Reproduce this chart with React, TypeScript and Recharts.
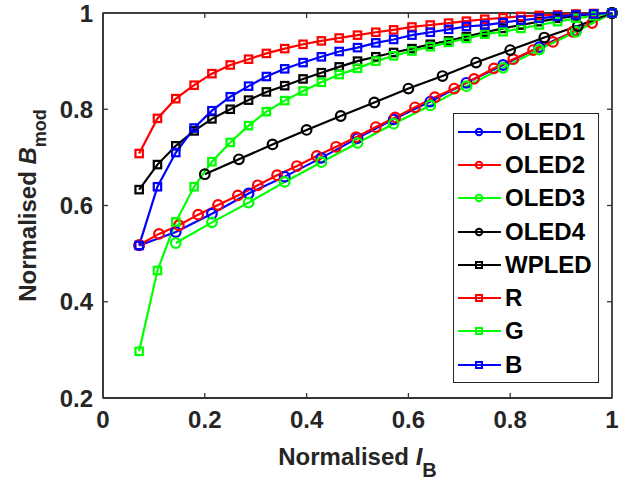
import React from "react";
import { LineChart, Line, XAxis, YAxis, Legend, Label, ReferenceLine, ReferenceArea } from "recharts";

// ---------- data ----------
const xSquares = [0.071, 0.107, 0.143, 0.179, 0.214, 0.25, 0.286, 0.321, 0.357, 0.393, 0.429, 0.464, 0.5, 0.536, 0.571, 0.607, 0.643, 0.679, 0.714, 0.75, 0.786, 0.821, 0.857, 0.893, 0.929, 0.964, 1.0];
const rValues = [0.708, 0.781, 0.822, 0.85, 0.874, 0.892, 0.904, 0.916, 0.926, 0.935, 0.942, 0.948, 0.954, 0.96, 0.965, 0.971, 0.975, 0.979, 0.983, 0.987, 0.99, 0.993, 0.995, 0.996, 0.998, 0.999, 1.0];
const bValues = [0.517, 0.639, 0.71, 0.761, 0.797, 0.826, 0.848, 0.868, 0.884, 0.897, 0.909, 0.92, 0.928, 0.938, 0.945, 0.954, 0.96, 0.966, 0.972, 0.975, 0.98, 0.985, 0.989, 0.993, 0.996, 0.998, 1.0];
const wpledValues = [0.633, 0.685, 0.724, 0.755, 0.78, 0.8, 0.819, 0.836, 0.849, 0.863, 0.876, 0.888, 0.9, 0.909, 0.918, 0.926, 0.935, 0.942, 0.951, 0.96, 0.968, 0.975, 0.982, 0.989, 0.994, 0.998, 1.0];
const gValues = [0.297, 0.465, 0.566, 0.639, 0.691, 0.731, 0.766, 0.795, 0.818, 0.838, 0.856, 0.872, 0.885, 0.9, 0.911, 0.921, 0.93, 0.939, 0.947, 0.956, 0.961, 0.968, 0.975, 0.982, 0.989, 0.994, 1.0];

const xOled1 = [0.071, 0.143, 0.214, 0.286, 0.357, 0.429, 0.5, 0.571, 0.643, 0.714, 0.786, 0.857, 0.929, 1.0];
const oled1Values = [0.517, 0.545, 0.583, 0.625, 0.66, 0.699, 0.74, 0.779, 0.816, 0.855, 0.892, 0.929, 0.963, 1.0];

const xOled2 = [0.071, 0.11, 0.149, 0.187, 0.226, 0.265, 0.304, 0.342, 0.381, 0.42, 0.458, 0.497, 0.536, 0.574, 0.613, 0.652, 0.69, 0.729, 0.768, 0.806, 0.845, 0.884, 0.923, 0.961, 1.0];
const oled2Values = [0.518, 0.541, 0.559, 0.581, 0.601, 0.621, 0.642, 0.663, 0.682, 0.703, 0.722, 0.742, 0.763, 0.783, 0.804, 0.825, 0.843, 0.863, 0.885, 0.904, 0.923, 0.94, 0.961, 0.979, 1.0];

const xOled3 = [0.143, 0.214, 0.286, 0.357, 0.429, 0.5, 0.571, 0.643, 0.714, 0.786, 0.857, 0.929, 1.0];
const oled3Values = [0.522, 0.565, 0.606, 0.649, 0.69, 0.73, 0.77, 0.808, 0.848, 0.886, 0.924, 0.961, 1.0];

const xOled4 = [0.2, 0.267, 0.333, 0.4, 0.467, 0.533, 0.6, 0.667, 0.733, 0.8, 0.867, 0.933, 1.0];
const oled4Values = [0.665, 0.696, 0.727, 0.757, 0.786, 0.814, 0.843, 0.869, 0.897, 0.923, 0.949, 0.973, 1.0];

const xTicks = [0, 0.2, 0.4, 0.6, 0.8, 1];
const yTicks = [0.2, 0.4, 0.6, 0.8, 1];
const xTickLabels = ["0", "0.2", "0.4", "0.6", "0.8", "1"];
const yTickLabels = ["0.2", "0.4", "0.6", "0.8", "1"];

const seriesNames = ["OLED1", "OLED2", "OLED3", "OLED4", "WPLED", "R", "G", "B"];

// ---------- helpers ----------
const zip = (xs: number[], ys: number[]) => xs.map((x, i) => ({ x, y: ys[i] }));

type Series = { name: string; data: { x: number; y: number }[]; color: string; marker: "circle" | "square" };

const series: Series[] = [
  { name: seriesNames[0], data: zip(xOled1, oled1Values), color: "#0000FF", marker: "circle" },
  { name: seriesNames[1], data: zip(xOled2, oled2Values), color: "#FF0000", marker: "circle" },
  { name: seriesNames[2], data: zip(xOled3, oled3Values), color: "#00FF00", marker: "circle" },
  { name: seriesNames[3], data: zip(xOled4, oled4Values), color: "#000000", marker: "circle" },
  { name: seriesNames[4], data: zip(xSquares, wpledValues), color: "#000000", marker: "square" },
  { name: seriesNames[5], data: zip(xSquares, rValues), color: "#FF0000", marker: "square" },
  { name: seriesNames[6], data: zip(xSquares, gValues), color: "#00FF00", marker: "square" },
  { name: seriesNames[7], data: zip(xSquares, bValues), color: "#0000FF", marker: "square" },
];

const FONT = "'Liberation Sans', Arial, Helvetica, sans-serif";
const AXIS = "#262626";
const FRAME = "#333333";

const makeDot = (color: string, marker: "circle" | "square") => (props: any) => {
  const { cx, cy, index } = props;
  if (cx == null || cy == null) return <g key={index} />;
  if (marker === "circle") {
    return <circle key={index} cx={cx} cy={cy} r={4.8} fill="none" stroke={color} strokeWidth={2.2} />;
  }
  return <rect key={index} x={cx - 3.7} y={cy - 3.7} width={7.4} height={7.4} fill="none" stroke={color} strokeWidth={2.2} />;
};

// tick label texts (axis passes y = axisY + tickSize + tickMargin = axisY + 8)
const BottomTick = (props: any) => {
  const { x, y, payload } = props;
  return (
    <text x={x} y={y + 22} textAnchor="middle" fontFamily={FONT} fontWeight="bold" fontSize={24} fill={AXIS}>
      {xTickLabels[xTicks.indexOf(payload.value)] ?? String(payload.value)}
    </text>
  );
};

const LeftTick = (props: any) => {
  const { x, y, payload } = props;
  return (
    <text x={x - 2} y={y} dy="0.36em" textAnchor="end" fontFamily={FONT} fontWeight="bold" fontSize={24} fill={AXIS}>
      {yTickLabels[yTicks.indexOf(payload.value)] ?? String(payload.value)}
    </text>
  );
};

// inward ticks at top and bottom edges, for a vertical ReferenceLine
const XTickShape = (props: any) => {
  const { x1, y1, y2 } = props;
  const top = Math.min(y1, y2);
  const bottom = Math.max(y1, y2);
  return (
    <g>
      <line x1={x1} y1={top} x2={x1} y2={top + 5} stroke={FRAME} strokeWidth={1.3} />
      <line x1={x1} y1={bottom} x2={x1} y2={bottom - 5} stroke={FRAME} strokeWidth={1.3} />
    </g>
  );
};

// inward ticks at left and right edges, for a horizontal ReferenceLine
const YTickShape = (props: any) => {
  const { x1, x2, y1 } = props;
  const left = Math.min(x1, x2);
  const right = Math.max(x1, x2);
  return (
    <g>
      <line x1={left} y1={y1} x2={left + 5} y2={y1} stroke={FRAME} strokeWidth={1.3} />
      <line x1={right} y1={y1} x2={right - 5} y2={y1} stroke={FRAME} strokeWidth={1.3} />
    </g>
  );
};

// full-length frame edge, for a ReferenceLine placed on a domain boundary
const EdgeShape = (props: any) => {
  const { x1, y1, x2, y2 } = props;
  return <line x1={x1} y1={y1} x2={x2} y2={y2} stroke={FRAME} strokeWidth={1.3} />;
};

const XTitle = (props: any) => {
  const { viewBox } = props;
  const cx = viewBox.x + viewBox.width / 2;
  return (
    <text x={cx} y={viewBox.y + 67} textAnchor="middle" fontFamily={FONT} fontWeight="bold" fontSize={24} fill={AXIS}>
      <tspan>Normalised </tspan>
      <tspan fontStyle="italic">I</tspan>
      <tspan fontSize={20} dy={12}>B</tspan>
    </text>
  );
};

const YTitle = (props: any) => {
  const { viewBox } = props;
  const cy = viewBox.y + viewBox.height / 2;
  const x = 36;
  return (
    <text x={x} y={cy} transform={`rotate(-90, ${x}, ${cy})`} textAnchor="middle" fontFamily={FONT} fontWeight="bold" fontSize={24} fill={AXIS}>
      <tspan>Normalised </tspan>
      <tspan fontStyle="italic">B</tspan>
      <tspan fontSize={18} dy={10}>mod</tspan>
    </text>
  );
};

const LegendBox = () => (
  <div
    style={{
      boxSizing: "border-box",
      width: 146,
      height: 270,
      border: `1px solid ${AXIS}`,
      background: "#fff",
      paddingTop: 1,
      fontFamily: FONT,
      textAlign: "left",
    }}
  >
    {series.map((s) => (
      <div key={s.name} style={{ height: 33.3, display: "flex", alignItems: "center" }}>
        <svg width={48} height={16} style={{ display: "block", marginLeft: 3 }}>
          <line x1={1} y1={8} x2={44} y2={8} stroke={s.color} strokeWidth={2} />
          {s.marker === "circle" ? (
            <circle cx={22} cy={8} r={3.2} fill="none" stroke={s.color} strokeWidth={2} />
          ) : (
            <rect x={19} y={5} width={6} height={6} fill="none" stroke={s.color} strokeWidth={2} />
          )}
        </svg>
        <span style={{ fontSize: 24, fontWeight: "bold", color: "#000", lineHeight: "24px" }}>{s.name}</span>
      </div>
    ))}
  </div>
);

export default function App() {
  return (
    <div style={{ position: "absolute", left: 0, top: 0, background: "#fff" }}>
      <LineChart width={635} height={486} margin={{ top: 13, right: 23, left: 0, bottom: 0 }}>
        <XAxis
          type="number"
          dataKey="x"
          domain={[0, 1]}
          ticks={xTicks}
          height={88}
          axisLine={{ stroke: FRAME, strokeWidth: 1.3 }}
          tickLine={false}
          tickSize={6}
          tickMargin={2}
          tick={<BottomTick />}
        >
          <Label content={<XTitle />} />
        </XAxis>
        <YAxis
          type="number"
          domain={[0.2, 1]}
          ticks={yTicks}
          width={103}
          axisLine={{ stroke: FRAME, strokeWidth: 1.3 }}
          tickLine={false}
          tickSize={6}
          tickMargin={2}
          tick={<LeftTick />}
        >
          <Label content={<YTitle />} />
        </YAxis>
        {/* axes box */}
        <ReferenceArea x1={0} x2={1} y1={0.2} y2={1} stroke={FRAME} strokeWidth={1.3} fill="none" ifOverflow="visible" />
        <ReferenceLine y={1} shape={<EdgeShape />} ifOverflow="visible" />
        <ReferenceLine x={1} shape={<EdgeShape />} ifOverflow="visible" />
        <ReferenceLine y={0.2} shape={<EdgeShape />} ifOverflow="visible" />
        <ReferenceLine x={0} shape={<EdgeShape />} ifOverflow="visible" />
        {xTicks.slice(1, -1).map((t) => (
          <ReferenceLine key={"tx" + t} x={t} shape={<XTickShape />} ifOverflow="visible" />
        ))}
        {yTicks.slice(1, -1).map((t) => (
          <ReferenceLine key={"ty" + t} y={t} shape={<YTickShape />} ifOverflow="visible" />
        ))}
        {series.map((s) => (
          <Line
            key={s.name}
            data={s.data}
            dataKey="y"
            name={s.name}
            stroke={s.color}
            strokeWidth={2.2}
            dot={makeDot(s.color, s.marker)}
            activeDot={false}
            isAnimationActive={false}
            type="linear"
          />
        ))}
        <Legend
          layout="horizontal"
          verticalAlign="middle"
          align="center"
          content={<LegendBox />}
          wrapperStyle={{ position: "absolute", left: 453, top: 113, width: 146, height: 270, margin: 0 }}
        />
      </LineChart>
    </div>
  );
}
